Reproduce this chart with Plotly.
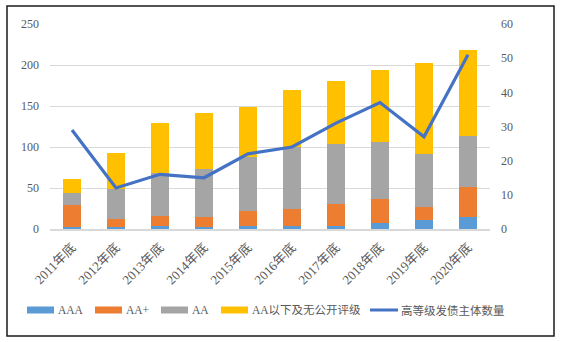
import plotly.graph_objects as go

categories = ["2011年底", "2012年底", "2013年底", "2014年底", "2015年底",
              "2016年底", "2017年底", "2018年底", "2019年底", "2020年底"]
aaa = [2, 2, 4, 3, 4, 4, 4, 7, 11, 15]
aa_plus = [27, 10, 12, 12, 18, 20, 27, 30, 16, 36]
aa = [15, 37, 52, 58, 66, 76, 73, 69, 64, 62]
below_aa = [17, 44, 61, 68, 61, 70, 77, 88, 111, 105]
high_grade = [29, 12, 16, 15, 22, 24, 31, 37, 27, 51]

series_names = ["AAA", "AA+", "AA", "AA以下及无公开评级"]
line_name = "高等级发债主体数量"
colors = ["#5B9BD5", "#ED7D31", "#A5A5A5", "#FFC000"]
line_color = "#4472C4"

W, H = 561, 342
L, R, T, B = 50, 71, 24, 113
pw, ph = W - L - R, H - T - B

def px_x(x):
    return (x - L) / pw

def px_y(y):
    return (H - B - y) / ph

font_fam = "Liberation Serif, Times New Roman, Noto Sans CJK SC, serif"
txt_color = "#595959"

fig = go.Figure()
for name, vals, c in zip(series_names, [aaa, aa_plus, aa, below_aa], colors):
    fig.add_trace(go.Bar(x=categories, y=vals, name=name, marker=dict(color=c, line=dict(width=0)),
                         showlegend=False))
fig.add_trace(go.Scatter(x=categories, y=high_grade, name=line_name, mode="lines",
                         line=dict(color=line_color, width=3.2), yaxis="y2", showlegend=False))

shapes = [
    dict(type="rect", xref="paper", yref="paper", x0=px_x(7), x1=px_x(554), y0=px_y(336), y1=px_y(6),
         line=dict(color="#1a1a1a", width=1.5), fillcolor="rgba(0,0,0,0)", layer="below"),
]
annotations = []
# custom legend
leg_y = 310
items = [(27, 57, series_names[0], colors[0], "bar"),
         (95, 125, series_names[1], colors[1], "bar"),
         (161, 191, series_names[2], colors[2], "bar"),
         (221, 251, series_names[3], colors[3], "bar"),
         (370, 400, line_name, line_color, "line")]
for sx, tx, name, c, kind in items:
    if kind == "bar":
        shapes.append(dict(type="rect", xref="paper", yref="paper", x0=px_x(sx), x1=px_x(sx + 27),
                           y0=px_y(leg_y + 3.5), y1=px_y(leg_y - 3.5), fillcolor=c, line=dict(width=0)))
    else:
        shapes.append(dict(type="line", xref="paper", yref="paper", x0=px_x(sx), x1=px_x(sx + 28),
                           y0=px_y(leg_y), y1=px_y(leg_y), line=dict(color=c, width=3)))
    annotations.append(dict(text=name, xref="paper", yref="paper", x=px_x(tx - 1), y=px_y(leg_y),
                            xanchor="left", yanchor="middle", showarrow=False,
                            font=dict(family=font_fam, size=11.5, color=txt_color)))

fig.update_layout(
    width=W, height=H,
    margin=dict(l=L, r=R, t=T, b=B),
    paper_bgcolor="white", plot_bgcolor="white",
    barmode="stack", bargap=0.6,
    showlegend=False,
    font=dict(family=font_fam, size=12, color=txt_color),
    xaxis=dict(tickangle=-45, showgrid=False, showline=True, linecolor="#D9D9D9", linewidth=1.5,
               ticks="", ticklabelstandoff=4,
               tickfont=dict(family=font_fam, size=13, color=txt_color)),
    yaxis=dict(range=[0, 250], dtick=50, showgrid=True, gridcolor="#D9D9D9", gridwidth=1,
               zeroline=False, showline=False, ticks="", ticklabelstandoff=10,
               tickfont=dict(family=font_fam, size=12, color=txt_color)),
    yaxis2=dict(range=[0, 60], dtick=10, overlaying="y", side="right", showgrid=False,
                zeroline=False, showline=False, ticks="", ticklabelstandoff=10,
                tickfont=dict(family=font_fam, size=12, color=txt_color)),
    shapes=shapes, annotations=annotations,
)

fig.write_html("out.html")
